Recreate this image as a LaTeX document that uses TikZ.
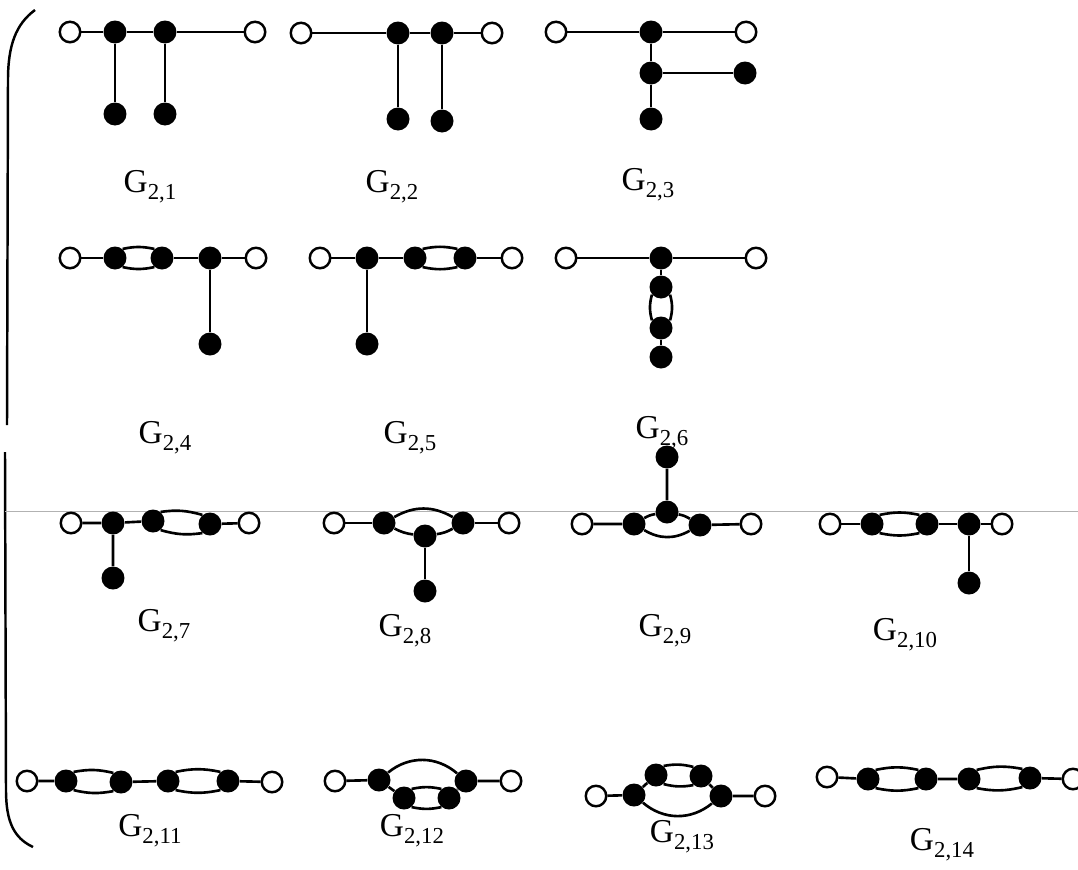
\documentclass[tikz,border=0pt]{standalone}
\usepackage{fontspec}
\setmainfont{Liberation Serif}
\usepackage{tikz}
\usetikzlibrary{positioning}
\newcommand{\gname}[1]{G\raisebox{-0.2em}{\fontsize{13}{13}\selectfont #1}}
\tikzset{
  open/.style={circle,draw,line width=1.4pt,fill=white,inner sep=0pt,minimum size=0.41cm},
  full/.style={circle,fill=black,inner sep=0pt,minimum size=0.46cm},
  glabel/.style={font=\fontsize{19}{22}\selectfont,inner sep=0pt},
  link/.style={line width=1.5pt}
}

\begin{document}
\begin{tikzpicture}[x=0.02cm,y=-0.02cm]
  \useasboundingbox (0,0) rectangle (1078,869);
  % bracket and scan line
  \draw[line width=1.4pt] (35,10) .. controls (16,24) and (8,45) .. (8,80) -- (7,425);
  \draw[line width=1.4pt] (5,452) -- (6,790) .. controls (6,822) and (14,838) .. (33,847);
  \draw[black!30,line width=0.5pt] (5,511) -- (1078,511);
  % G 2,1
  \node[open] (g1l) at (70,32) {};
  \node[full] (g1a) at (115,32) {};
  \node[full] (g1b) at (165,32) {};
  \node[open] (g1r) at (255,32) {};
  \node[full] (g1p) at (115,114) {};
  \node[full] (g1q) at (165,114) {};
  \draw[link] (g1l) -- (g1a) -- (g1b) -- (g1r) (g1a) -- (g1p) (g1b) -- (g1q);
  \node[glabel] (t1) at (150,187) {\gname{2,1}};
  % G 2,2
  \node[open] (g2l) at (301,33) {};
  \node[full] (g2a) at (398,33) {};
  \node[full] (g2b) at (442,33) {};
  \node[open] (g2r) at (492,33) {};
  \node[full] (g2p) at (398,119) {};
  \node[full] (g2q) at (442,121) {};
  \draw[link] (g2l) -- (g2a) -- (g2b) -- (g2r) (g2a) -- (g2p) (g2b) -- (g2q);
  \node[glabel] (t2) at (392,187) {\gname{2,2}};
  % G 2,3
  \node[open] (g3l) at (556,32) {};
  \node[full] (g3a) at (651,32) {};
  \node[open] (g3r) at (746,32) {};
  \node[full] (g3b) at (651,73) {};
  \node[full] (g3c) at (745,73) {};
  \node[full] (g3p) at (651,119) {};
  \draw[link] (g3l) -- (g3a) -- (g3r) (g3a) -- (g3b) -- (g3p) (g3b) -- (g3c);
  \node[glabel] (t3) at (648,185) {\gname{2,3}};
  % G 2,4
  \node[open] (g4l) at (70,258) {};
  \node[full] (g4a) at (115,258) {};
  \node[full] (g4b) at (162,258) {};
  \node[full] (g4c) at (210,258) {};
  \node[open] (g4r) at (256,258) {};
  \node[full] (g4p) at (210,344) {};
  \draw[link] (g4l) -- (g4a) (g4b) -- (g4c) -- (g4r) (g4c) -- (g4p);
  \draw[link] (g4a.50) to[bend left=12] (g4b.130) (g4a.-50) to[bend right=12] (g4b.-130);
  \node[glabel] (t4) at (165,438) {\gname{2,4}};
  % G 2,5
  \node[open] (g5l) at (320,258) {};
  \node[full] (g5a) at (367,258) {};
  \node[full] (g5b) at (415,258) {};
  \node[full] (g5c) at (465,258) {};
  \node[open] (g5r) at (512,258) {};
  \node[full] (g5p) at (367,344) {};
  \draw[link] (g5l) -- (g5a) -- (g5b) (g5c) -- (g5r) (g5a) -- (g5p);
  \draw[link] (g5b.50) to[bend left=12] (g5c.130) (g5b.-50) to[bend right=12] (g5c.-130);
  \node[glabel] (t5) at (410,438) {\gname{2,5}};
  % G 2,6
  \node[open] (g6l) at (566,258) {};
  \node[full] (g6a) at (661,258) {};
  \node[open] (g6r) at (756,258) {};
  \node[full] (g6b) at (661,287) {};
  \node[full] (g6c) at (661,328) {};
  \node[full] (g6p) at (661,357) {};
  \draw[link] (g6l) -- (g6a) -- (g6r) (g6a) -- (g6b) (g6c) -- (g6p);
  \draw[link] (g6b.-40) to[bend left=15] (g6c.40) (g6b.-140) to[bend right=15] (g6c.140);
  \node[glabel] (t6) at (662,433) {\gname{2,6}};
  % G 2,7
  \node[open] (g7l) at (71,523) {};
  \node[full] (g7a) at (113,523) {};
  \node[full] (g7b) at (153,521) {};
  \node[full] (g7c) at (210,524) {};
  \node[open] (g7r) at (249,523) {};
  \node[full] (g7p) at (113,578) {};
  \draw[link] (g7l) -- (g7a) -- (g7b) (g7c) -- (g7r) (g7a) -- (g7p);
  \draw[link] (g7b.50) to[bend left=12] (g7c.130) (g7b.-50) to[bend right=12] (g7c.-130);
  \node[glabel] (t7) at (164,626) {\gname{2,7}};
  % G 2,8
  \node[open] (g8l) at (334,523) {};
  \node[full] (g8a) at (384,523) {};
  \node[full] (g8b) at (463,523) {};
  \node[open] (g8r) at (509,523) {};
  \node[full] (g8c) at (425,536) {};
  \node[full] (g8p) at (425,591) {};
  \draw[link] (g8l) -- (g8a) (g8b) -- (g8r) (g8c) -- (g8p);
  \draw[link] (g8a) to[bend left=30] (g8b);
  \draw[link] (g8a) to[bend right=10] (g8c) (g8c) to[bend right=10] (g8b);
  \node[glabel] (t8) at (405,631) {\gname{2,8}};
  % G 2,9
  \node[open] (g9l) at (582,524) {};
  \node[full] (g9a) at (634,524) {};
  \node[full] (g9b) at (700,525) {};
  \node[open] (g9r) at (751,524) {};
  \node[full] (g9c) at (667,512) {};
  \node[full] (g9p) at (667,457) {};
  \draw[link] (g9l) -- (g9a) (g9b) -- (g9r) (g9c) -- (g9p);
  \draw[link] (g9a) to[bend right=30] (g9b);
  \draw[link] (g9a) to[bend left=10] (g9c) (g9c) to[bend left=10] (g9b);
  \node[glabel] (t9) at (665,631) {\gname{2,9}};
  % G 2,10
  \node[open] (g10l) at (830,524) {};
  \node[full] (g10a) at (872,524) {};
  \node[full] (g10b) at (927,524) {};
  \node[full] (g10c) at (969,524) {};
  \node[open] (g10r) at (1002,524) {};
  \node[full] (g10p) at (969,583) {};
  \draw[link] (g10l) -- (g10a) (g10b) -- (g10c) -- (g10r) (g10c) -- (g10p);
  \draw[link] (g10a.50) to[bend left=12] (g10b.130) (g10a.-50) to[bend right=12] (g10b.-130);
  \node[glabel] (t10) at (905,635) {\gname{2,10}};
  % G 2,11
  \node[open] (g11l) at (27,781) {};
  \node[full] (g11a) at (66,781) {};
  \node[full] (g11b) at (121,782) {};
  \node[full] (g11c) at (168,781) {};
  \node[full] (g11d) at (228,781) {};
  \node[open] (g11r) at (272,782) {};
  \draw[link] (g11l) -- (g11a) (g11b) -- (g11c) (g11d) -- (g11r);
  \draw[link] (g11a.50) to[bend left=12] (g11b.130) (g11a.-50) to[bend right=12] (g11b.-130);
  \draw[link] (g11c.50) to[bend left=12] (g11d.130) (g11c.-50) to[bend right=12] (g11d.-130);
  \node[glabel] (t11) at (150,831) {\gname{2,11}};
  % G 2,12
  \node[open] (g12l) at (335,781) {};
  \node[full] (g12a) at (379,780) {};
  \node[full] (g12b) at (466,781) {};
  \node[open] (g12r) at (511,781) {};
  \node[full] (g12c) at (404,798) {};
  \node[full] (g12d) at (449,798) {};
  \draw[link] (g12l) -- (g12a) (g12b) -- (g12r) (g12a) -- (g12c) (g12d) -- (g12b);
  \draw[link] (g12a) to[bend left=40] (g12b);
  \draw[link] (g12c.50) to[bend left=12] (g12d.130) (g12c.-50) to[bend right=12] (g12d.-130);
  \node[glabel] (t12) at (412,831) {\gname{2,12}};
  % G 2,13
  \node[open] (g13l) at (596,796) {};
  \node[full] (g13a) at (634,795) {};
  \node[full] (g13b) at (721,796) {};
  \node[open] (g13r) at (765,796) {};
  \node[full] (g13c) at (656,775) {};
  \node[full] (g13d) at (701,776) {};
  \draw[link] (g13l) -- (g13a) (g13b) -- (g13r) (g13a) -- (g13c) (g13d) -- (g13b);
  \draw[link] (g13a) to[bend right=40] (g13b);
  \draw[link] (g13c.50) to[bend left=12] (g13d.130) (g13c.-50) to[bend right=12] (g13d.-130);
  \node[glabel] (t13) at (682,837) {\gname{2,13}};
  % G 2,14
  \node[open] (g14l) at (827,777) {};
  \node[full] (g14a) at (868,779) {};
  \node[full] (g14b) at (926,779) {};
  \node[full] (g14c) at (969,779) {};
  \node[full] (g14d) at (1030,778) {};
  \node[open] (g14r) at (1073,779) {};
  \draw[link] (g14l) -- (g14a) (g14b) -- (g14c) (g14d) -- (g14r);
  \draw[link] (g14a.50) to[bend left=12] (g14b.130) (g14a.-50) to[bend right=12] (g14b.-130);
  \draw[link] (g14c.50) to[bend left=12] (g14d.130) (g14c.-50) to[bend right=12] (g14d.-130);
  \node[glabel] (t14) at (942,845) {\gname{2,14}};
\end{tikzpicture}
\end{document}
